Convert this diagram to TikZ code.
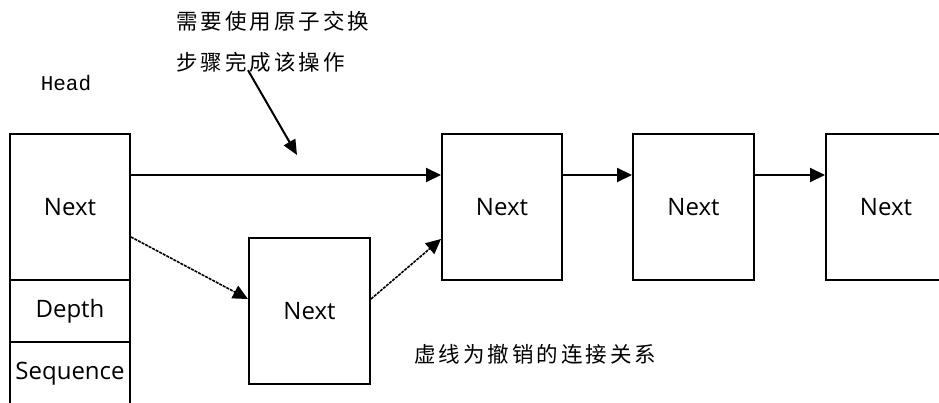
\documentclass[tikz,border=0pt]{standalone}
\usepackage{fontspec}
\setmainfont{Open Sans}
\newfontfamily\cjkfont[LetterSpace=14]{Noto Sans CJK SC}
\newfontfamily\headfont{Liberation Mono}
\usetikzlibrary{arrows.meta,calc}
\begin{document}
\begin{tikzpicture}[x=1pt,y=-1pt,
  cell/.style={draw,line width=2pt,rectangle,inner sep=0pt,minimum width=120pt,font=\fontsize{24}{28}\selectfont},
  link/.style={line width=2pt,-{Triangle[length=15pt,width=14pt]}},
  undone/.style={line width=1.6pt,dash pattern=on 3pt off 1pt,-{Triangle[length=15pt,width=14pt]}},
  cjk/.style={inner sep=0pt,anchor=west,font=\cjkfont\fontsize{21.5}{25}\selectfont}]
\useasboundingbox (0,0) rectangle (939,403);
% head
\node[cell,minimum height=146pt] (hn) at (70,207) {Next};
\node[cell,minimum height=62pt] (hd) at (70,311) {Depth};
\node[cell,minimum height=64pt] (hs) at (70,374) {Sequence};
% list
\node[cell,minimum width=121pt,minimum height=146pt] (mid) at (309.5,311) {Next};
\node[cell,minimum height=146pt] (n1) at (502,207) {Next};
\node[cell,minimum width=121pt,minimum height=146pt] (n2) at (693.5,207) {Next};
\node[cell,minimum height=146pt] (n3) at (886,207) {Next};
% texts
\node[inner sep=0pt,font=\headfont\fontsize{21}{24}\selectfont] (head) at (66,83) {Head};
\node[cjk] (t1) at (176,21) {需要使用原子交换};
\node[cjk] (t2) at (176,62) {步骤完成该操作};
\node[cjk] (t3) at (414,354) {虚线为撤销的连接关系};
% connectors
\draw[link] ($(hn.north east)+(0,42)$) -- ($(n1.north west)+(0,42)$);
\draw[link] ($(n1.north east)+(0,42)$) -- ($(n2.north west)+(0,42)$);
\draw[link] ($(n2.north east)+(0,42)$) -- ($(n3.north west)+(0,42)$);
\draw[undone] ($(hn.north east)+(0,104)$) -- ($(mid.north west)+(0,62)$);
\draw[undone] ($(mid.north east)+(0,62)$) -- ($(n1.north west)+(0,106)$);
\coordinate (ptr) at (297,155);
\draw[link,-{Triangle[length=15pt,width=13pt]}] ($(t2.south west)+(72,-2)$) -- (ptr);
\end{tikzpicture}
\end{document}
